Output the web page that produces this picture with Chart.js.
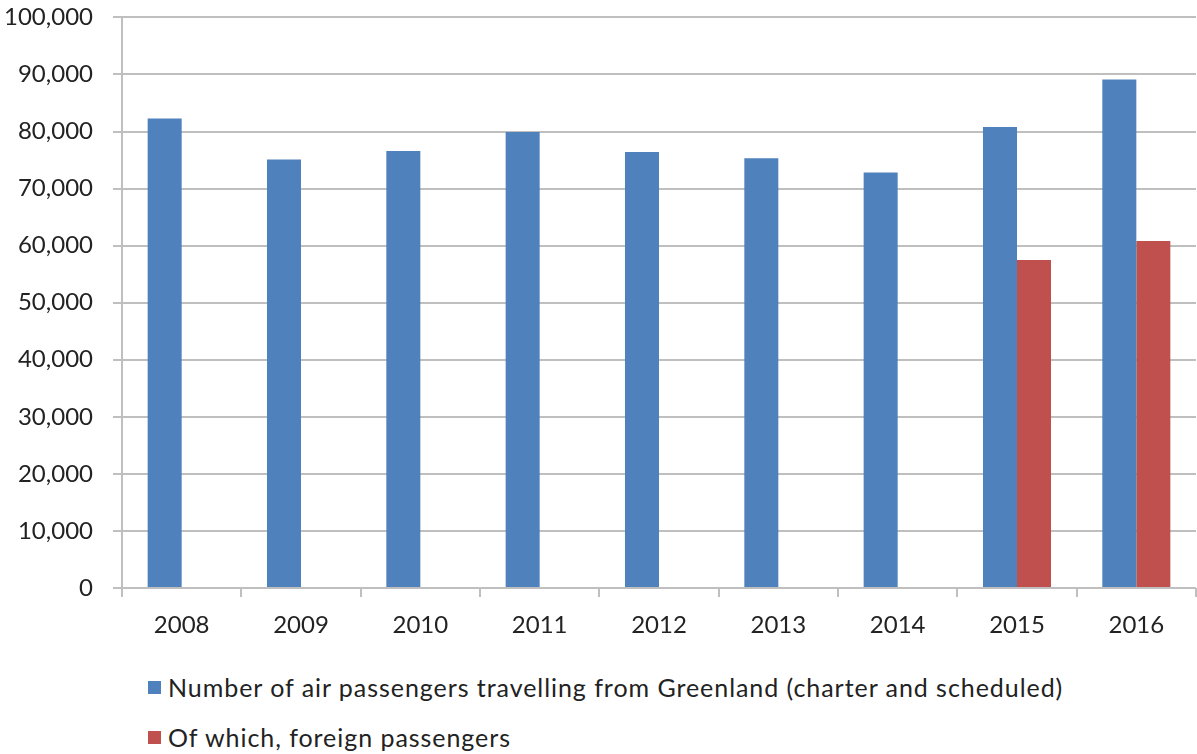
<!DOCTYPE html>
<html>
<head>
<meta charset="utf-8">
<script src="https://cdn.jsdelivr.net/npm/chart.js@4"></script>
<style>
  html, body { margin: 0; padding: 0; background: #fff; overflow: hidden; }
  #wrap { position: relative; width: 1197px; height: 754px; font-family: Lato, "Open Sans", sans-serif; color: #222; }
  #chartBox { position: absolute; left: 0; top: -17px; width: 1197px; height: 677px; }
  .legend { position: absolute; left: 148px; font-size: 25px; letter-spacing: 0.95px; display: flex; align-items: center; white-space: nowrap; height: 30px; }
  .legend .swatch { width: 13px; height: 13px; margin-right: 7px; }
</style>
</head>
<body>
<div id="wrap">
  <div id="chartBox"><canvas id="chart"></canvas></div>
  <div id="legend"></div>
</div>
<script>
// Air passengers leaving Greenland, 2008-2016
const years = ['2008', '2009', '2010', '2011', '2012', '2013', '2014', '2015', '2016'];
const allPassengers = [82300, 75100, 76600, 79900, 76400, 75300, 72800, 80800, 89100];
const foreignPassengers = [null, null, null, null, null, null, null, 57500, 60800];
const seriesLabels = [
  'Number of air passengers travelling from Greenland (charter and scheduled)',
  'Of which, foreign passengers'
];
const seriesColors = ['#4F81BD', '#C0504D'];
const yTicks = { min: 0, max: 100000, step: 10000 };

const gridColor = '#BFBFBF';
const textColor = '#222';
const font = { family: 'Lato, "Open Sans", sans-serif', size: 24 };

new Chart(document.getElementById('chart'), {
  type: 'bar',
  data: {
    labels: years,
    datasets: [
      { label: seriesLabels[0], data: allPassengers, backgroundColor: seriesColors[0] },
      { label: seriesLabels[1], data: foreignPassengers, backgroundColor: seriesColors[1] },
    ]
  },
  options: {
    responsive: true,
    maintainAspectRatio: false,
    animation: false,
    datasets: { bar: { categoryPercentage: 0.57, barPercentage: 1 } },
    layout: { padding: { top: 0, right: 1, left: 0, bottom: 0 } },
    plugins: { legend: { display: false }, tooltip: { enabled: false } },
    scales: {
      x: {
        grid: { display: true, drawOnChartArea: false, drawTicks: true, tickLength: 9, color: gridColor, lineWidth: 2 },
        border: { display: false },
        ticks: { color: textColor, font, padding: 14 },
        afterFit: s => { s.height = 72; }
      },
      y: {
        min: yTicks.min, max: yTicks.max,
        grid: { color: gridColor, lineWidth: 2, tickLength: 9 },
        border: { display: true, color: gridColor, width: 2 },
        ticks: {
          stepSize: yTicks.step, color: textColor, font, padding: 20,
          callback: v => v.toLocaleString('en-US')
        },
        afterFit: s => { s.width = 122; }
      }
    }
  }
});

// legend rows below the plot
const legendEl = document.getElementById('legend');
seriesLabels.forEach((label, i) => {
  const row = document.createElement('div');
  row.className = 'legend';
  row.style.top = (672 + i * 50) + 'px';
  row.innerHTML = `<div class="swatch" style="background:${seriesColors[i]}"></div><span>${label}</span>`;
  legendEl.appendChild(row);
});
</script>
</body>
</html>
